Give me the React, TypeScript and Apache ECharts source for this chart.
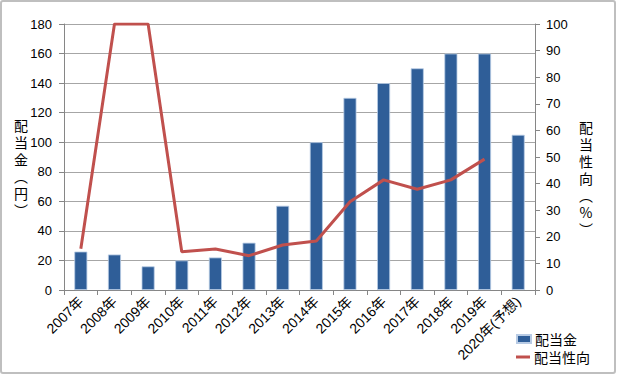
import React, { useEffect, useRef } from "react";
import * as echarts from "echarts";

const categories = ["2007年", "2008年", "2009年", "2010年", "2011年", "2012年", "2013年", "2014年", "2015年", "2016年", "2017年", "2018年", "2019年", "2020年(予想)"];
const dividends = [26, 24, 16, 20, 22, 32, 57, 100, 130, 140, 150, 160, 160, 105];
const payoutRatio = [15.5, 100, 100, 14.4, 15.4, 12.9, 16.9, 18.4, 33.2, 41.4, 37.9, 41.4, 49.2, null];
const leftTicks = { min: 0, max: 180, interval: 20 };
const rightTicks = { min: 0, max: 100, interval: 10 };
const leftName = ["配", "当", "金", "︵", "円", "︶"];
const rightName = ["配", "当", "性", "向", "︵", "%", "︶"];

const FONT = "'Liberation Sans', 'Noto Sans CJK JP', sans-serif";
const CJK = "'Noto Sans CJK JP', sans-serif";

export default function App() {
  const ref = useRef<HTMLDivElement>(null);
  useEffect(() => {
    document.body.style.margin = "0";
    const chart = echarts.init(ref.current!, null, { renderer: "svg" });
    const vertical = (chars: string[], x: number, top: number) =>
      chars.map((c, i) => ({
        type: "text",
        x,
        y: top + i * 17,
        silent: true,
        style: {
          text: c,
          font: "14px 'Noto Sans CJK JP'",
          fill: "#000",
          align: "center",
          verticalAlign: "middle",
        },
      }));
    chart.setOption({
      animation: false,
      backgroundColor: "#ffffff",
      grid: { left: 64, right: 82, top: 24, bottom: 85, containLabel: false },
      legend: [
        {
          left: 516,
          top: 332,
          padding: 0,
          itemWidth: 14,
          itemHeight: 8,
          textStyle: { fontFamily: CJK, fontSize: 14, color: "#000", padding: [0, 0, 0, -1] },
          data: [{ name: "配当金", icon: "rect" }],
        },
        {
          left: 516,
          top: 350,
          padding: 0,
          itemWidth: 14,
          itemHeight: 3,
          textStyle: { fontFamily: CJK, fontSize: 14, color: "#000", padding: [0, 0, 0, -1] },
          data: [{ name: "配当性向", icon: "rect" }],
        },
      ],
      xAxis: {
        type: "category",
        data: categories,
        axisLine: { lineStyle: { color: "#868686" } },
        axisTick: { show: true, length: 5, lineStyle: { color: "#868686" } },
        axisLabel: {
          rotate: 45,
          interval: 0,
          margin: 9,
          fontFamily: FONT,
          fontSize: 14,
          color: "#000",
        },
      },
      yAxis: [
        {
          type: "value",
          min: leftTicks.min,
          max: leftTicks.max,
          interval: leftTicks.interval,
          axisLine: { show: true, lineStyle: { color: "#868686" } },
          axisTick: { show: true, length: 5, lineStyle: { color: "#868686" } },
          axisLabel: { fontFamily: FONT, fontSize: 13, color: "#000", margin: 12 },
          splitLine: { lineStyle: { color: "#a6a6a6", width: 1 } },
        },
        {
          type: "value",
          min: rightTicks.min,
          max: rightTicks.max,
          interval: rightTicks.interval,
          axisLine: { show: true, lineStyle: { color: "#868686" } },
          axisTick: { show: true, length: 5, lineStyle: { color: "#868686" } },
          axisLabel: { fontFamily: FONT, fontSize: 13, color: "#000", margin: 11 },
          splitLine: { show: false },
        },
      ],
      series: [
        {
          name: "配当金",
          type: "bar",
          yAxisIndex: 0,
          data: dividends,
          barWidth: 13,
          itemStyle: { color: "#2f5e98", borderColor: "#b8cbe4", borderWidth: 0.8 },
        },
        {
          name: "配当性向",
          type: "line",
          yAxisIndex: 1,
          data: payoutRatio,
          symbol: "none",
          lineStyle: { color: "#c0504d", width: 3 },
          itemStyle: { color: "#c0504d" },
        },
      ],
      graphic: [
        {
          type: "rect",
          shape: { x: 1, y: 1, width: 614, height: 372, r: 2 },
          style: { fill: "none", stroke: "#bfbfbf", lineWidth: 2 },
          silent: true,
        },
        ...vertical(leftName, 21, 125),
        ...vertical(rightName, 586, 127),
      ],
    });
    return () => chart.dispose();
  }, []);
  return <div ref={ref} style={{ width: 617, height: 375 }} />;
}
